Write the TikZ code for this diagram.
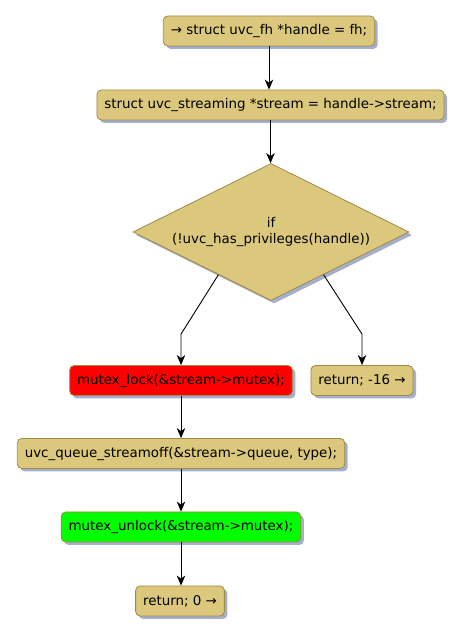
\documentclass[tikz,border=0pt]{standalone}
\usepackage{fontspec}
\setmainfont{DejaVu Sans}
\usepackage{tikz}
\usetikzlibrary{shapes.geometric,arrows.meta,positioning,calc,shadows}
\definecolor{acTan}{HTML}{DCC87C}
\definecolor{acLine}{HTML}{A08A45}
\definecolor{acShade}{HTML}{A3AFCB}
\definecolor{acRed}{HTML}{FF0000}
\definecolor{acGreen}{HTML}{00FF00}

\begin{document}
\begin{tikzpicture}[x=1pt, y=1pt, font=\fontsize{13.4}{15.5}\selectfont,
  act/.style={rectangle,rounded corners=4.5pt,draw=acLine,fill=acTan,line width=0.8pt,
    minimum height=30pt,inner xsep=7.5pt,
    drop shadow={shadow xshift=3pt,shadow yshift=-3pt,fill=acShade,opacity=1}},
  cond/.style={diamond,aspect=2,draw=acLine,fill=acTan,line width=0.8pt,inner sep=0pt,
    minimum width=276pt,minimum height=137pt,align=center,
    drop shadow={shadow xshift=3pt,shadow yshift=-3pt,fill=acShade,opacity=1}},
  flow/.style={-{Stealth[length=10pt,width=8.5pt,inset=3pt]},line width=0.9pt,black}]
\useasboundingbox (0,0) rectangle (464,636);
\node[act] (fh) at (269,605) {→ struct uvc\_fh *handle = fh;};
\node[act] (strm) at (270.5,531) {struct uvc\_streaming *stream = handle->stream;};
\node[cond] (priv) at (271,404) {if\\(!uvc\_has\_privileges(handle))};
\node[act,fill=acRed] (lock) at (181,255.5) {mutex\_lock(\&stream->mutex);};
\node[act] (ret16) at (362,255.5) {return; -16 →};
\node[act] (qoff) at (181,182.5) {uvc\_queue\_streamoff(\&stream->queue, type);};
\node[act,fill=acGreen] (unlock) at (181,109) {mutex\_unlock(\&stream->mutex);};
\node[act] (ret0) at (180,35) {return; 0 →};
% branch points on the lower edges of the test
\coordinate (yesout) at ($(priv.west)!0.62!(priv.south)$);
\coordinate (noout) at ($(priv.east)!0.62!(priv.south)$);
\coordinate (yesbend) at ($(lock.north)+(0,31)$);
\coordinate (nobend) at ($(ret16.north)+(0,31)$);
\draw[flow] (fh) -- (fh |- strm.north);
\draw[flow] (strm) -- (strm |- priv.north);
\draw[flow] (yesout) -- (yesbend) -- (lock);
\draw[flow] (noout) -- (nobend) -- (ret16);
\draw[flow] (lock) -- (qoff);
\draw[flow] (qoff) -- (unlock);
\draw[flow] (unlock) -- (unlock |- ret0.north);
\end{tikzpicture}
\end{document}
